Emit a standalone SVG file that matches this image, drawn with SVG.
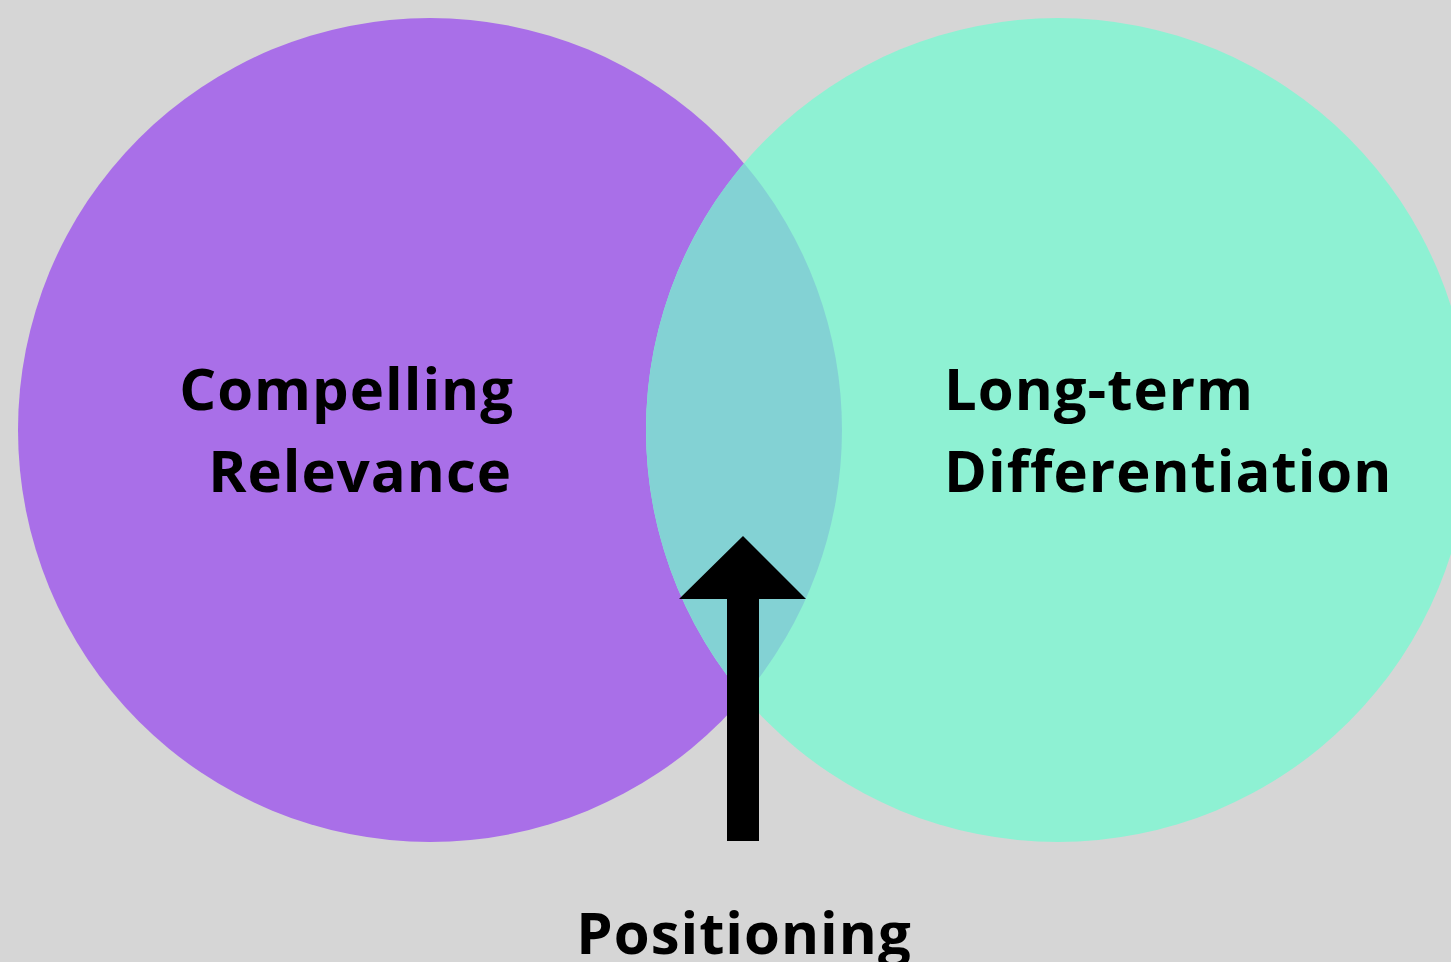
<svg xmlns="http://www.w3.org/2000/svg" width="1451" height="962" viewBox="0 0 1451 962">
<style>
.lbl{font-family:"Open Sans","Noto Sans","Liberation Sans",sans-serif;font-weight:700;fill:#000;font-size:58px;letter-spacing:1px}
</style>
<rect width="1451" height="962" fill="#D6D6D6"/>
<g id="relevance">
<circle cx="430" cy="430" r="412" fill="#A96FE8"/>
<text class="lbl" x="514" y="410" text-anchor="end">Compelling</text>
</g>
<g id="differentiation">
<circle cx="1058" cy="430" r="412" fill="#8EF1D3"/>
</g>
<g id="overlap">
<path d="M744 163.3 A412 412 0 0 1 744 696.7 A412 412 0 0 1 744 163.3 Z" fill="#83D2D4"/>
</g>
<g id="labels">
<text class="lbl" x="512" y="492" text-anchor="end">Relevance</text>
<text class="lbl" x="944" y="410">Long-term</text>
<text class="lbl" x="944" y="492">Differentiation</text>
</g>
<g id="connectors">
<path d="M727 841 V599 H679 L743 536 L806 599 H759 V841 Z" fill="#000"/>
</g>
<g id="positioning">
<text class="lbl" x="744" y="954" text-anchor="middle">Positioning</text>
</g>
</svg>
